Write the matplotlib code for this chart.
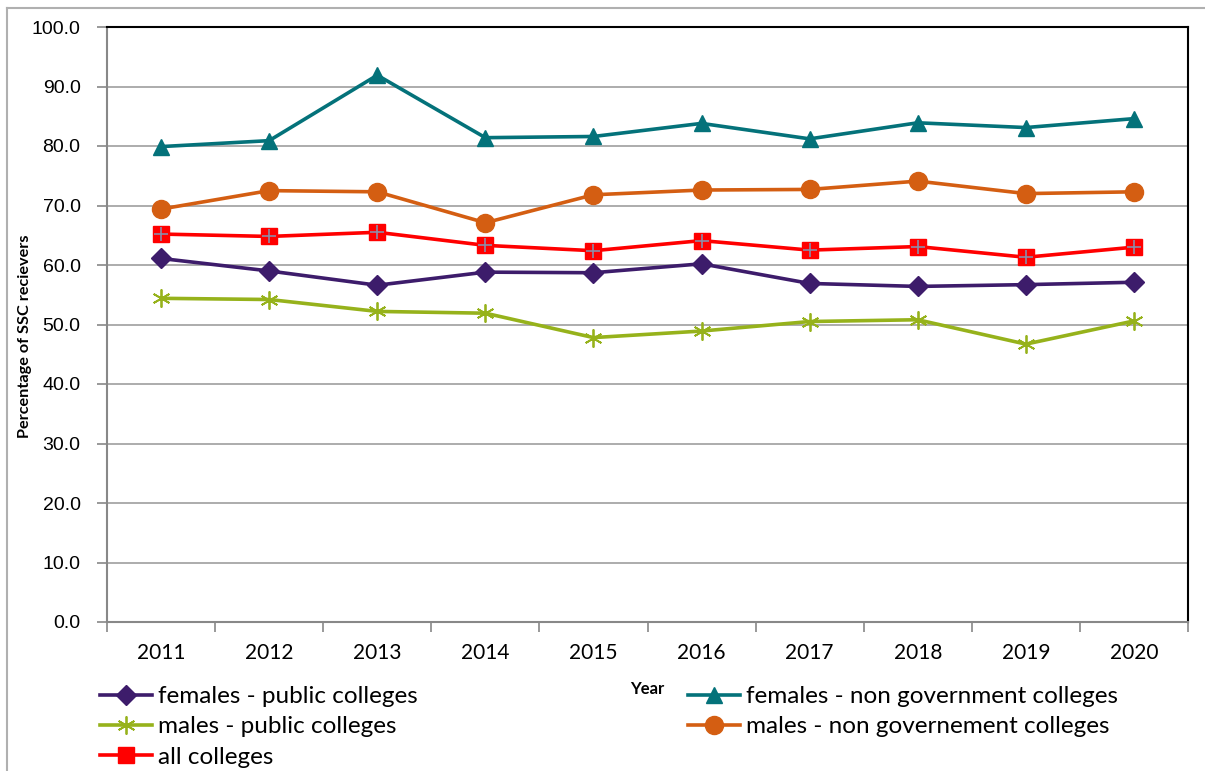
import matplotlib.pyplot as plt
from matplotlib.lines import Line2D

years = ["2011", "2012", "2013", "2014", "2015", "2016", "2017", "2018", "2019", "2020"]

females_public = [61.1, 59.0, 56.6, 58.8, 58.7, 60.2, 56.9, 56.4, 56.7, 57.1]
males_public = [54.4, 54.2, 52.2, 51.9, 47.8, 48.9, 50.5, 50.8, 46.7, 50.6]
all_colleges = [65.2, 64.8, 65.5, 63.3, 62.4, 64.1, 62.5, 63.1, 61.3, 63.0]
females_nongov = [79.9, 80.9, 91.9, 81.4, 81.6, 83.8, 81.2, 83.9, 83.1, 84.6]
males_nongov = [69.4, 72.5, 72.3, 67.1, 71.8, 72.6, 72.7, 74.1, 72.0, 72.3]

W, H = 1205, 771
fig = plt.figure(figsize=(W / 100, H / 100), dpi=100)
ax = fig.add_axes([107 / W, 1 - 622 / H, (1188 - 107) / W, (622 - 27) / H])

x = list(range(len(years)))
lw = 2.6

l_fp, = ax.plot(x, females_public, color="#3D1C6B", lw=lw, marker="D", ms=10,
                label="females - public colleges")
l_mp, = ax.plot(x, males_public, color="#96B21B", lw=lw, marker=(6, 2, 0), ms=13,
                mew=1.3, label="males - public colleges")
l_all, = ax.plot(x, all_colleges, color="#FF0000", lw=lw, marker="s", ms=11,
                 label="all colleges")
ax.plot(x, all_colleges, ls="none", marker="+", ms=10, mew=1.2, color="#8C8CA8")
l_fng, = ax.plot(x, females_nongov, color="#04727A", lw=lw, marker="^", ms=12,
                 label="females - non government colleges")
l_mng, = ax.plot(x, males_nongov, color="#D45E12", lw=lw, marker="o", ms=13,
                 label="males - non governement colleges")

ax.set_xlim(-0.5, len(years) - 0.5)
ax.set_ylim(0, 100)
ax.set_yticks(range(0, 101, 10))
ax.set_yticklabels([f"{v:.1f}" for v in range(0, 101, 10)],
                   fontfamily="Liberation Sans", fontsize=14)
ax.set_xticks(x)
ax.set_xticklabels(years, fontfamily="Lato", fontsize=15)
ax.set_xticks([i - 0.5 for i in range(len(years) + 1)], minor=True)
ax.tick_params(axis="x", which="major", length=0, pad=15)
ax.tick_params(axis="x", which="minor", length=7, color="#888888", width=1.2)
ax.tick_params(axis="y", length=7, color="#888888", width=1.2, pad=12)

ax.grid(axis="y", color="#A6A6A6", lw=1.3)
ax.set_axisbelow(True)
for s in ["left", "bottom"]:
    ax.spines[s].set_color("#888888")
    ax.spines[s].set_linewidth(1.5)
for s in ["top", "right"]:
    ax.spines[s].set_color("#000000")
    ax.spines[s].set_linewidth(1.5)

ax.set_xlabel("Year", fontfamily="Lato", fontweight="bold", fontsize=12)
ax.xaxis.set_label_coords(0.5, -0.1)
fig.text(25 / W, 1 - 336 / H, "Percentage of SSC recievers", fontfamily="Lato",
         fontweight="bold", fontsize=11.7, rotation=90, ha="center", va="center")

leg_kw = dict(loc="upper left", frameon=False, prop={"family": "Lato", "size": 17.5},
              handlelength=2.15, handletextpad=0.25, labelspacing=0.38,
              numpoints=1, borderaxespad=0, borderpad=0)
leg1 = fig.legend(handles=[l_fp, l_mp, l_all], bbox_to_anchor=(100 / W, 1 - 686 / H), **leg_kw)
leg2 = fig.legend(handles=[l_fng, l_mng], bbox_to_anchor=(688 / W, 1 - 686 / H), **leg_kw)

# outer chart border
fig.add_artist(Line2D([7 / W, 7 / W], [0, 1 - 8 / H], transform=fig.transFigure,
                      color="#B0B0B0", lw=1.5))
fig.add_artist(Line2D([7 / W, 1], [1 - 8 / H, 1 - 8 / H], transform=fig.transFigure,
                      color="#B0B0B0", lw=1.5))

fig.savefig("out.png", dpi=100)
